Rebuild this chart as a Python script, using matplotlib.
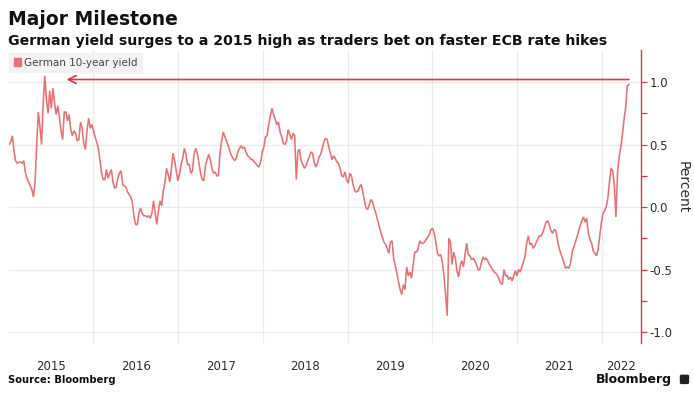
import matplotlib
matplotlib.use('Agg')
import matplotlib.pyplot as plt
import numpy as np
import pandas as pd
from matplotlib.patches import Patch, FancyBboxPatch
from matplotlib.ticker import FixedLocator, NullFormatter

# ---------------- data ----------------
start_date = '2015-01-02'
week_step = '7D'
yield_pct = [
    0.50, 0.52, 0.57, 0.45, 0.37, 0.35, 0.36, 0.36, 0.35, 0.37,
    0.28, 0.23, 0.20, 0.17, 0.14, 0.08, 0.20, 0.50, 0.76, 0.64,
    0.50, 0.83, 1.05, 0.86, 0.75, 0.93, 0.79, 0.95, 0.83, 0.74,
    0.81, 0.72, 0.61, 0.54, 0.76, 0.76, 0.69, 0.74, 0.62, 0.57,
    0.61, 0.59, 0.53, 0.54, 0.68, 0.63, 0.51, 0.46, 0.61, 0.71,
    0.63, 0.66, 0.61, 0.56, 0.52, 0.47, 0.37, 0.27, 0.22, 0.22,
    0.30, 0.23, 0.27, 0.30, 0.20, 0.15, 0.16, 0.23, 0.27, 0.29,
    0.18, 0.17, 0.16, 0.12, 0.10, 0.08, 0.03, -0.08,
    -0.14, -0.14, -0.05, -0.01, -0.05, -0.07, -0.07, -0.08, -0.07, -0.09,
    -0.05, 0.05, -0.04, -0.14, -0.03, 0.05, 0.01, 0.13, 0.19, 0.31,
    0.26, 0.20, 0.30, 0.43, 0.37, 0.29, 0.21, 0.26, 0.34, 0.39,
    0.47, 0.42, 0.34, 0.34, 0.27, 0.29, 0.42, 0.47, 0.43, 0.35,
    0.27, 0.22, 0.21, 0.33, 0.38, 0.42, 0.38, 0.31, 0.27, 0.28,
    0.25, 0.25, 0.44, 0.53, 0.60, 0.56, 0.53, 0.49, 0.45, 0.41,
    0.39, 0.37, 0.39, 0.44, 0.47, 0.49, 0.47, 0.48, 0.44, 0.41,
    0.40, 0.38, 0.38, 0.36, 0.35, 0.33, 0.32,
    0.36, 0.44, 0.48, 0.56, 0.57, 0.66, 0.73, 0.79, 0.74, 0.70,
    0.66, 0.68, 0.60, 0.56, 0.51, 0.50, 0.53, 0.62, 0.58, 0.54,
    0.59, 0.57, 0.22, 0.45, 0.46, 0.37, 0.34, 0.31, 0.33, 0.37,
    0.40, 0.44, 0.43, 0.36, 0.32, 0.35, 0.40, 0.42, 0.47, 0.52,
    0.55, 0.54, 0.48, 0.43, 0.38, 0.41, 0.39, 0.36, 0.35, 0.31,
    0.25, 0.24, 0.28, 0.22, 0.19, 0.27, 0.25, 0.18, 0.13, 0.12,
    0.13, 0.16, 0.18, 0.12, 0.05, -0.01, -0.02, 0.02, 0.06, 0.04,
    -0.01,
    -0.05, -0.10, -0.15, -0.20, -0.24, -0.28, -0.30, -0.33, -0.37, -0.28,
    -0.27, -0.41, -0.47, -0.53, -0.60, -0.66, -0.70, -0.62, -0.66, -0.48,
    -0.55, -0.52, -0.57, -0.46, -0.36, -0.36, -0.34, -0.27, -0.29, -0.29,
    -0.28, -0.26, -0.24, -0.22, -0.18, -0.17, -0.21, -0.28, -0.37, -0.39,
    -0.38, -0.44, -0.55, -0.70, -0.87, -0.25, -0.28, -0.46, -0.36, -0.41,
    -0.51, -0.56, -0.47, -0.43, -0.48, -0.38, -0.29, -0.38, -0.39, -0.42,
    -0.41, -0.43, -0.46, -0.50, -0.50, -0.45, -0.40, -0.42, -0.41, -0.43,
    -0.46, -0.48, -0.50, -0.52, -0.53, -0.55, -0.58, -0.61, -0.62, -0.50,
    -0.55, -0.55, -0.58, -0.56, -0.59, -0.55, -0.51, -0.55, -0.50, -0.52,
    -0.48, -0.44, -0.39, -0.29, -0.23, -0.30, -0.29, -0.33, -0.31, -0.28,
    -0.25, -0.23, -0.23, -0.20, -0.16, -0.12, -0.11, -0.15, -0.19, -0.21,
    -0.18, -0.19, -0.27, -0.33, -0.37, -0.41, -0.45, -0.49, -0.48, -0.49,
    -0.45, -0.36, -0.32, -0.28, -0.24, -0.19, -0.15, -0.11, -0.08, -0.12,
    -0.09, -0.21, -0.26, -0.29, -0.35, -0.37, -0.39, -0.34, -0.23, -0.13,
    -0.05, -0.03, 0.00, 0.07, 0.20, 0.31, 0.29, 0.18, -0.08, 0.28,
    0.40, 0.48, 0.58, 0.70, 0.80, 0.97, 0.98,
]
years = ['2015', '2016', '2017', '2018', '2019', '2020', '2021', '2022']
y_ticks = [-1.0, -0.5, 0.0, 0.5, 1.0]
y_minor = [-1.0, -0.75, -0.5, -0.25, 0.0, 0.25, 0.5, 0.75, 1.0]
arrow_level = 1.02
arrow_tip_date = '2015-09-07'
x_start, x_end = '2015-01-01', '2022-06-20'
y_range = (-1.088, 1.256)

title = 'Major Milestone'
subtitle = 'German yield surges to a 2015 high as traders bet on faster ECB rate hikes'
series_name = 'German 10-year yield'
source = 'Source: Bloomberg'

# ---------------- style ----------------
line_c = '#eb7074'
red = '#e2363c'
grid_c = '#ebebeb'
txt_c = '#2b2b2b'

dates = pd.date_range(start_date, periods=len(yield_pct), freq=week_step)

fig = plt.figure(figsize=(6.94, 3.96), dpi=100)
ax = fig.add_axes([0.0128, 0.1338, 0.9108, 0.7399])

ax.plot(dates, yield_pct, color=line_c, lw=1.15, solid_joinstyle='miter', zorder=3)

xl = pd.Timestamp(x_start)
xr = pd.Timestamp(x_end)
ax.set_xlim(xl, xr)
ax.set_ylim(*y_range)

# vertical grid at year starts
year_starts = [pd.Timestamp(f'{y}-01-01') for y in years[1:]]
ax.set_xticks(year_starts)
ax.tick_params(axis='x', which='major', length=0, labelbottom=False)
# year labels at mid-year (2022 centred in its visible part)
mids = []
for y in years:
    a = pd.Timestamp(f'{y}-01-01')
    b = min(pd.Timestamp(f'{int(y)+1}-01-01'), xr)
    mids.append(a + (b - a) / 2)
ax.set_xticks(mids, minor=True)
ax.set_xticklabels(years, minor=True)
ax.tick_params(axis='x', which='minor', length=0, pad=12, labelsize=8.5,
               labelcolor=txt_c)
ax.grid(axis='x', which='major', color=grid_c, lw=0.9, zorder=0)

# y axis on the right
ax.yaxis.tick_right()
ax.set_yticks(y_ticks)
ax.set_yticklabels([f'{v:.1f}' for v in y_ticks])
ax.yaxis.set_minor_locator(FixedLocator(y_minor))
ax.yaxis.set_minor_formatter(NullFormatter())
ax.tick_params(axis='y', which='both', length=4, width=0.9, color=red,
               labelsize=8.5, labelcolor=txt_c, pad=2)
ax.grid(axis='y', which='major', color=grid_c, lw=0.9, zorder=0)

for s in ['top', 'left', 'bottom']:
    ax.spines[s].set_visible(False)
ax.spines['right'].set_color(red)
ax.spines['right'].set_linewidth(1.0)

# arrow from latest value back to the 2015 high
ax.annotate('', xy=(pd.Timestamp(arrow_tip_date), arrow_level),
            xytext=(dates[-1], arrow_level),
            arrowprops=dict(arrowstyle='->,head_length=0.55,head_width=0.28',
                            color=red, lw=1.2, shrinkA=0, shrinkB=0),
            zorder=4)

# legend
leg = ax.legend(handles=[Patch(color=line_c, label=series_name)],
                loc='upper left', bbox_to_anchor=(0.0, 0.99), fontsize=7.5,
                handlelength=0.7, handleheight=0.75, handletextpad=0.3,
                borderpad=0.45, frameon=True, fancybox=False,
                borderaxespad=0.0)
leg.get_frame().set_facecolor('#f1f1f1')
leg.get_frame().set_edgecolor('#f1f1f1')
for t in leg.get_texts():
    t.set_color('#444444')

# texts
fig.text(0.0115, 0.937, title, fontsize=13.5, fontweight='bold', color='#111111',
         ha='left', va='baseline')
fig.text(0.0115, 0.886, subtitle, fontsize=10.2, fontweight='bold', color='#111111',
         ha='left', va='baseline')
fig.text(0.984, 0.528, 'Percent', rotation=270, fontsize=10, color=txt_c,
         ha='center', va='center')
fig.text(0.0115, 0.032, source, fontsize=7.2, fontweight='bold', color='#111111',
         ha='left', va='baseline')
fig.text(0.968, 0.032, 'Bloomberg', fontsize=9, fontweight='bold', color='#111111',
         ha='right', va='baseline')
logo = FancyBboxPatch((0.9795, 0.030), 0.0135, 0.024,
                      boxstyle='round,pad=0.0,rounding_size=0.003',
                      transform=fig.transFigure, facecolor='#222222',
                      edgecolor='none')
fig.patches.append(logo)

fig.savefig('out.png', dpi=100, facecolor='white')
